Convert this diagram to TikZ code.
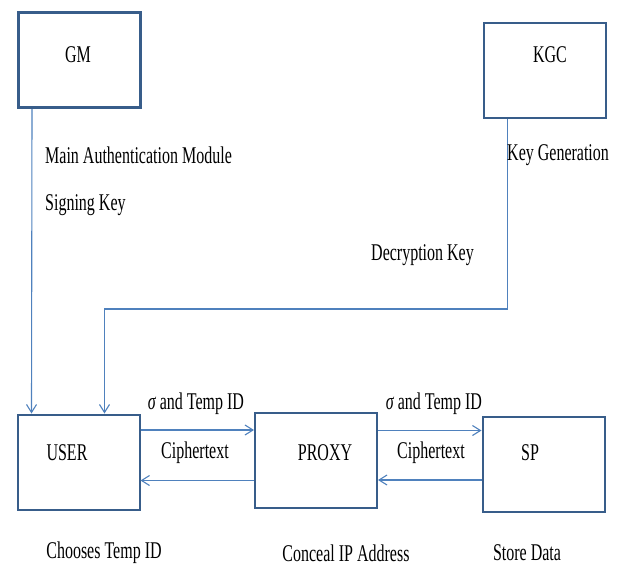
\documentclass[tikz,border=0pt]{standalone}
\usepackage{fontspec}
\setmainfont{Liberation Serif}
\usepackage{graphicx}
\usetikzlibrary{arrows.meta}

\definecolor{boxblue}{RGB}{56,93,138}
\definecolor{lineblue}{RGB}{79,129,189}
% narrow, tall lettering
\newcommand{\tall}[1]{\scalebox{1}[1.5]{#1}}

\begin{document}
\begin{tikzpicture}
	[x=1pt,y=-1pt,
	entity/.style={draw=boxblue,line width=2pt,
		minimum width=122pt,minimum height=95pt,inner sep=0pt},
	link/.style={lineblue,line width=1.1pt,
		-{Straight Barb[length=8pt,width=10pt]}},
	txt/.style={font=\fontsize{16}{18}\selectfont,inner sep=0pt}]
	\useasboundingbox (0,0) rectangle (622,565);

	% the five parties
	\node[entity,line width=3pt] (gm) at (79.5,60) {};
	\node[entity] (kgc) at (544.5,70.5) {};
	\node[entity] (user) at (78.5,462) {};
	\node[entity] (proxy) at (316,460.5) {};
	\node[entity] (sp) at (543.5,464.5) {};

	\node[txt] (gmname) at (78,55) {\tall{GM}};
	\node[txt] (kgcname) at (550,55) {\tall{KGC}};
	\node[txt] (username) at (67,453) {\tall{USER}};
	\node[txt] (proxyname) at (325,453) {\tall{PROXY}};
	\node[txt] (spname) at (530,453) {\tall{SP}};

	% keys handed down to the user
	\draw[link] ([xshift=15]gm.south west) -- ([xshift=15]user.north west);
	\draw[link] ([xshift=25]kgc.south west) -- ++(0,190)
		-| ([xshift=88]user.north west);

	\node[txt,anchor=west] (mam) at (45,155) {\tall{Main Authentication Module}};
	\node[txt,anchor=west] (sigkey) at (45,205) {\tall{Signing Key}};
	\node[txt,anchor=west] (keygen) at (507,155) {\tall{Key Generation}};
	\node[txt,anchor=west] (deckey) at (371,255) {\tall{Decryption Key}};

	% messages user <-> proxy <-> sp
	\draw[link] ([yshift=32]user.east) coordinate (u1) -- (u1 -| proxy.west);
	\draw[link] ([yshift=-20]proxy.west) coordinate (p1) -- (p1 -| user.east);
	\draw[link] ([yshift=30]proxy.east) coordinate (p2) -- (p2 -| sp.west);
	\draw[link] ([yshift=-15.5]sp.west) coordinate (s1) -- (s1 -| proxy.east);

	\node[txt] (sig1) at (196,404) {\tall{{\itshape σ} and Temp ID}};
	\node[txt] (cip1) at (195,453) {\tall{Ciphertext}};
	\node[txt] (sig2) at (434,404) {\tall{{\itshape σ} and Temp ID}};
	\node[txt] (cip2) at (431,453) {\tall{Ciphertext}};

	% what each party does
	\node[txt] (userjob) at (104,553) {\tall{Chooses Temp ID}};
	\node[txt] (proxyjob) at (346,553) {\tall{Conceal IP Address}};
	\node[txt] (spjob) at (527,553) {\tall{Store Data}};
\end{tikzpicture}
\end{document}
